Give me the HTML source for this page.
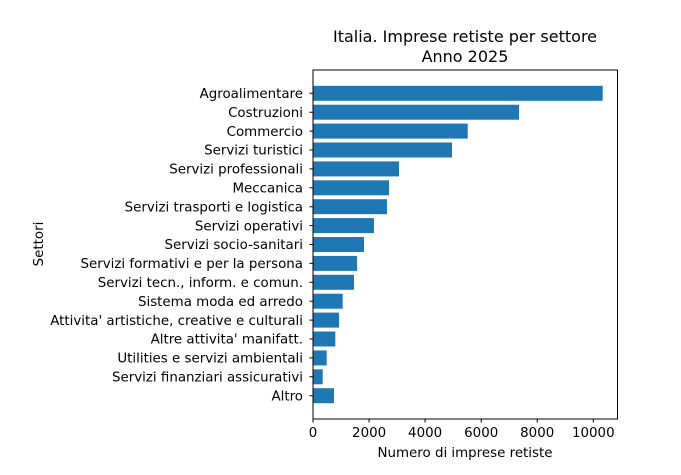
<!DOCTYPE html>
<html><head><meta charset="utf-8"><style>body{margin:0;background:#fff}svg{display:block}text{font-family:"DejaVu Sans","Liberation Sans",sans-serif;fill:#000}</style></head>
<body>
<svg width="681" height="475" viewBox="0 0 681 475" xmlns="http://www.w3.org/2000/svg">
<rect width="681" height="475" fill="#fff"/>
<g fill="#1f77b4">
<rect x="313" y="85.8" width="289.7" height="15"/>
<rect x="313" y="104.7" width="206" height="15"/>
<rect x="313" y="123.6" width="154.7" height="15"/>
<rect x="313" y="142.5" width="139" height="15"/>
<rect x="313" y="161.4" width="86" height="15"/>
<rect x="313" y="180.3" width="76" height="15"/>
<rect x="313" y="199.2" width="74" height="15"/>
<rect x="313" y="218.1" width="61" height="15"/>
<rect x="313" y="237" width="51" height="15"/>
<rect x="313" y="255.9" width="44" height="15"/>
<rect x="313" y="274.8" width="41" height="15"/>
<rect x="313" y="293.7" width="29.7" height="15"/>
<rect x="313" y="312.6" width="26" height="15"/>
<rect x="313" y="331.5" width="22.3" height="15"/>
<rect x="313" y="350.4" width="13.7" height="15"/>
<rect x="313" y="369.3" width="9.7" height="15"/>
<rect x="313" y="388.2" width="21" height="15"/>
</g>
<rect x="313" y="70" width="304.5" height="349" fill="none" stroke="#000" stroke-width="1"/>
<g stroke="#000" stroke-width="1">
<line x1="313" y1="419" x2="313" y2="422.5"/><line x1="369.1" y1="419" x2="369.1" y2="422.5"/><line x1="425.1" y1="419" x2="425.1" y2="422.5"/><line x1="481.2" y1="419" x2="481.2" y2="422.5"/><line x1="537.2" y1="419" x2="537.2" y2="422.5"/><line x1="593.3" y1="419" x2="593.3" y2="422.5"/>
</g>
<g font-size="13.4" text-anchor="middle">
<text x="313" y="437">0</text><text x="369.1" y="437">2000</text><text x="425.1" y="437">4000</text><text x="481.2" y="437">6000</text><text x="537.2" y="437">8000</text><text x="593.3" y="437">10000</text>
<text x="465" y="457">Numero di imprese retiste</text>
<text x="465" y="42" font-size="16">Italia. Imprese retiste per settore</text>
<text x="465" y="62" font-size="16">Anno 2025</text>
</g>
<text transform="translate(43,244) rotate(-90)" font-size="13.4" text-anchor="middle">Settori</text>
<g stroke="#000"><path d="M309.5 93.3h3.5M309.5 112.2h3.5M309.5 131.1h3.5M309.5 150h3.5M309.5 168.9h3.5M309.5 187.8h3.5M309.5 206.7h3.5M309.5 225.6h3.5M309.5 244.5h3.5M309.5 263.4h3.5M309.5 282.3h3.5M309.5 301.2h3.5M309.5 320.1h3.5M309.5 339h3.5M309.5 357.9h3.5M309.5 376.8h3.5M309.5 395.7h3.5"/></g>
<g font-size="13.4" text-anchor="end">
<text x="303" y="98">Agroalimentare</text>
<text x="303" y="116.9">Costruzioni</text>
<text x="303" y="135.8">Commercio</text>
<text x="303" y="154.7">Servizi turistici</text>
<text x="303" y="173.6">Servizi professionali</text>
<text x="303" y="192.5">Meccanica</text>
<text x="303" y="211.4">Servizi trasporti e logistica</text>
<text x="303" y="230.3">Servizi operativi</text>
<text x="303" y="249.2">Servizi socio-sanitari</text>
<text x="303" y="268.1">Servizi formativi e per la persona</text>
<text x="303" y="287">Servizi tecn., inform. e comun.</text>
<text x="303" y="305.9">Sistema moda ed arredo</text>
<text x="303" y="324.8">Attivita' artistiche, creative e culturali</text>
<text x="303" y="343.7">Altre attivita' manifatt.</text>
<text x="303" y="362.6">Utilities e servizi ambientali</text>
<text x="303" y="381.5">Servizi finanziari assicurativi</text>
<text x="303" y="400.4">Altro</text>
</g>
</svg>
</body></html>
